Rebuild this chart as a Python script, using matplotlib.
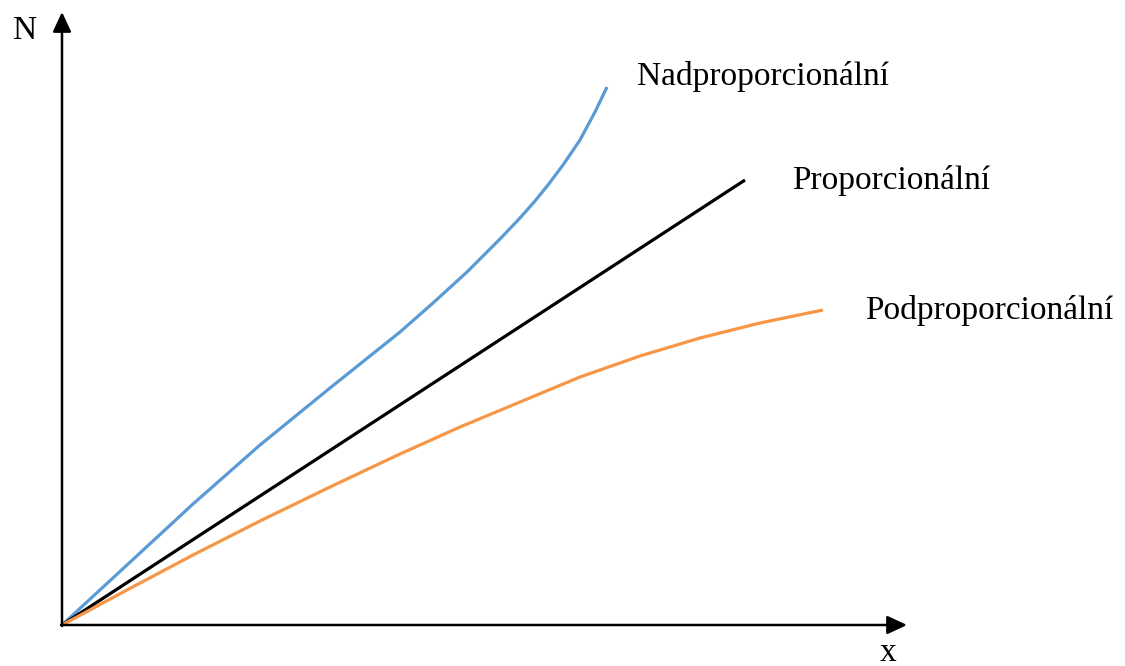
#!/usr/bin/env python

"""
Proportional, over- and under-proportional growth of N with x
"""

import matplotlib
matplotlib.use("Agg")
import matplotlib.pyplot as plt

# curve points (origin = 0, arbitrary units)
nad_x = [0, 65, 131, 198, 268, 338, 371, 405, 438, 458, 473, 486, 501, 518, 533, 545]
nad_y = [0, 60, 121, 180, 237, 293, 322, 353, 386, 407, 424, 440, 460, 485, 513, 538]

prop_x = [0, 683]
prop_y = [0, 445]

pod_x = [0, 65, 131, 198, 268, 338, 398, 458, 518, 578, 638, 698, 761]
pod_y = [0, 35, 70, 104, 138, 171, 198, 223, 248, 269, 287, 302, 315]

labels = ["Nadproporcionální", "Proporcionální", "Podproporcionální"]

plt.rcParams["font.family"] = ["Liberation Serif", "DejaVu Serif"]

fig = plt.figure(figsize=(11.25, 6.66), dpi=100)
ax = fig.add_axes([0, 0, 1, 1])
ax.set_xlim(-62, 1063)
ax.set_ylim(-41, 625)
ax.axis("off")

# axes with arrows
arrow = dict(arrowstyle="-|>,head_length=0.6,head_width=0.28", lw=1.8,
             color="black", mutation_scale=20, shrinkA=0, shrinkB=0)
ax.annotate("", xy=(845, 0), xytext=(-1, 0), arrowprops=arrow)
ax.annotate("", xy=(0, 613), xytext=(0, -1), arrowprops=arrow)

ax.plot(nad_x, nad_y, color="#5B9BD5", lw=2.3, solid_capstyle="butt", solid_joinstyle="round")
ax.plot(prop_x, prop_y, color="black", lw=2.3, solid_capstyle="butt")
ax.plot(pod_x, pod_y, color="#F79646", lw=2.3, solid_capstyle="butt", solid_joinstyle="round")

fs = 24
ax.text(575, 548, labels[0], fontsize=fs, va="center", ha="left")
ax.text(730, 445, labels[1], fontsize=fs, va="center", ha="left")
ax.text(803, 315, labels[2], fontsize=fs, va="center", ha="left")
ax.text(-37, 594, "N", fontsize=fs, va="center", ha="center")
ax.text(826, -28, "x", fontsize=fs, va="center", ha="center")

plt.savefig("out.png", dpi=100)
